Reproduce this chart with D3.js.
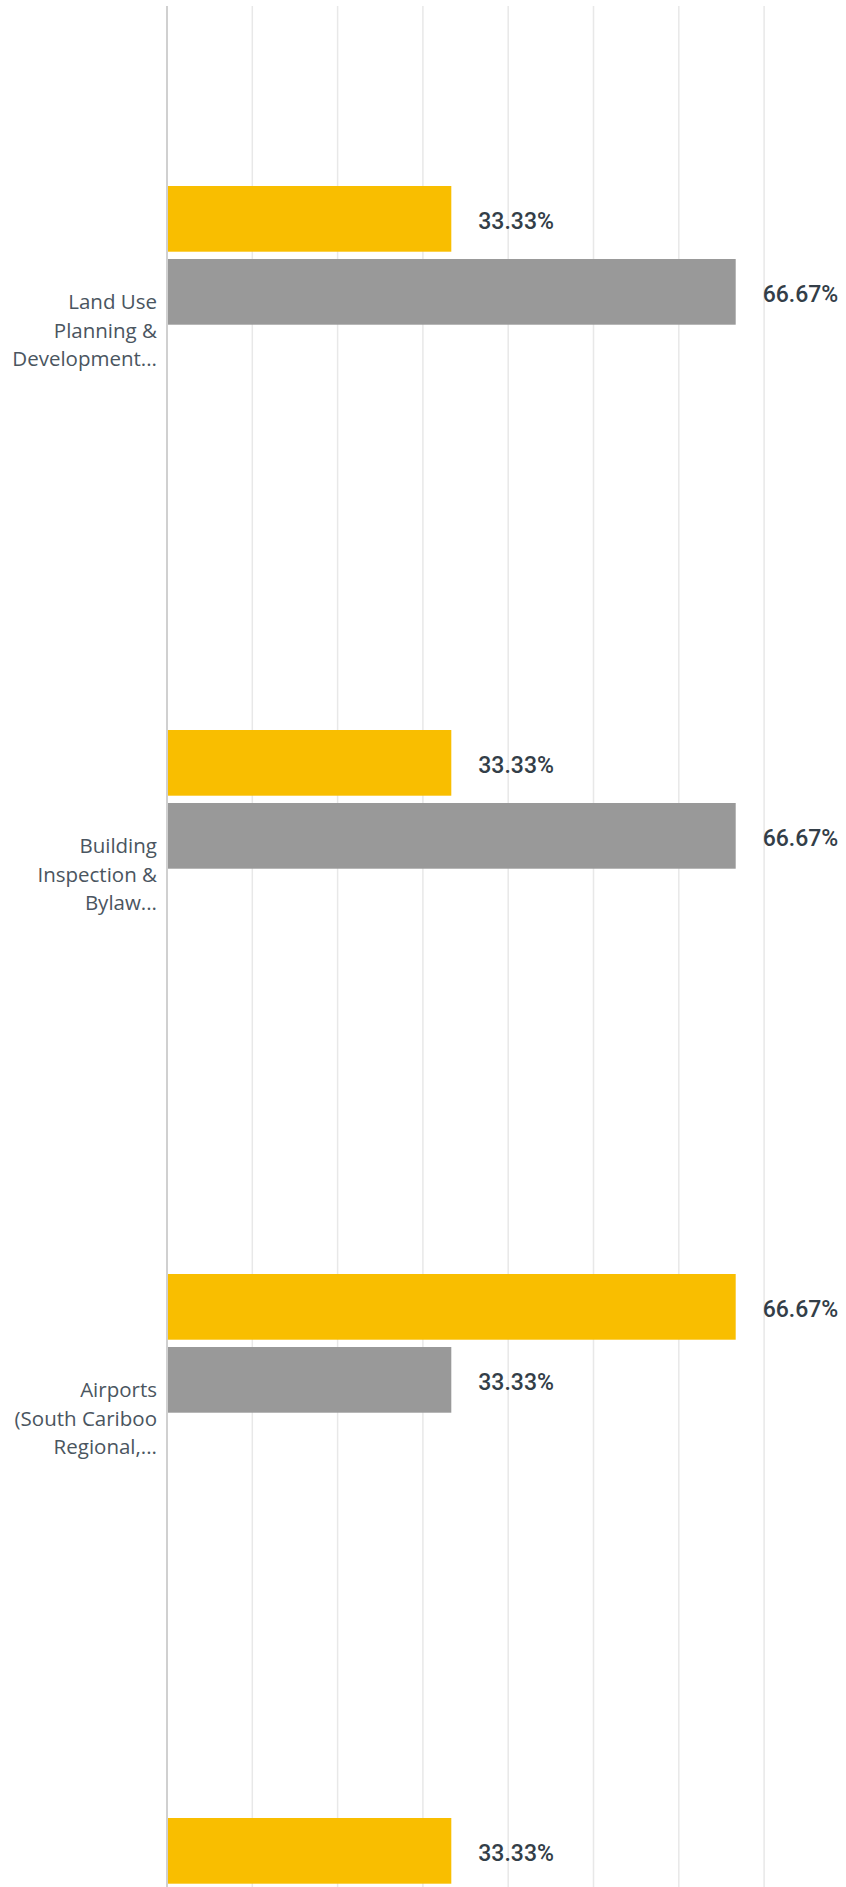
<!DOCTYPE html>
<html>
<head>
<meta charset="utf-8">
<script src="https://cdn.jsdelivr.net/npm/d3@7"></script>
<style>
  body { margin: 0; background: #fff; }
  svg { display: block; }
</style>
</head>
<body>
<div id="chart"></div>
<script>
const svgWidth = 846;
const svgHeight = 1887;

// categories (labels already wrapped / truncated as in the picture)
const categories = ["Land Use Planning", "Building Inspection", "Airports", "Next"];
const categoryLines = [
  ["Land Use", "Planning &", "Development..."],
  ["Building", "Inspection &", "Bylaw..."],
  ["Airports", "(South Cariboo", "Regional,..."],
  []
];
const seriesNames = ["yellow", "gray"];
const yellowValues = [0.3333, 0.3333, 0.6667, 0.3333];
const grayValues = [0.6667, 0.6667, 0.3333, null];
const gridTicks = [0, 0.1, 0.2, 0.3, 0.4, 0.5, 0.6, 0.7, 0.8, 0.9, 1];
const colors = { yellow: "#F9BE00", gray: "#999999" };

const axisX = 167;

const svg = d3.select("#chart")
  .append("svg")
  .attr("width", svgWidth)
  .attr("height", svgHeight);

// x scale: the picture shows only the left part of a wider chart
const xScale = d3.scaleLinear()
  .domain([0, 1])
  .range([axisX, axisX + 853]);

// category bands, 544px apart
const yScale = d3.scaleBand()
  .domain(categories)
  .range([60, 60 + 544 * categories.length])
  .paddingInner(0);

// bars inside a band
const ySeries = d3.scaleBand()
  .domain(seriesNames)
  .range([126, 126 + 73 * 2 - 7.3])
  .paddingInner(0.1);

// gridlines
svg.append("g")
  .selectAll("line")
  .data(gridTicks.filter(t => t > 0))
  .enter()
  .append("line")
  .attr("x1", d => xScale(d))
  .attr("x2", d => xScale(d))
  .attr("y1", 6)
  .attr("y2", svgHeight)
  .attr("stroke", "#e8e8e8")
  .attr("stroke-width", 1.5);

// build rows
const rows = [];
categories.forEach((c, i) => {
  rows.push({ cat: c, series: "yellow", value: yellowValues[i] });
  rows.push({ cat: c, series: "gray", value: grayValues[i] });
});
const bars = rows.filter(d => d.value != null);

svg.append("g")
  .selectAll("rect")
  .data(bars)
  .enter()
  .append("rect")
  .attr("x", xScale(0))
  .attr("y", d => yScale(d.cat) + ySeries(d.series))
  .attr("width", d => xScale(d.value) - xScale(0))
  .attr("height", ySeries.bandwidth())
  .attr("fill", d => colors[d.series]);

// value labels
svg.append("g")
  .selectAll("text")
  .data(bars)
  .enter()
  .append("text")
  .attr("x", d => xScale(d.value) + 27)
  .attr("y", d => yScale(d.cat) + ySeries(d.series) + ySeries.bandwidth() / 2 + 10)
  .attr("font-family", "Roboto, 'Open Sans', sans-serif")
  .attr("font-size", "23px")
  .attr("font-weight", 500)
  .attr("fill", "#333e48")
  .text(d => (d.value * 100).toFixed(2) + "%");

// axis line
svg.append("line")
  .attr("x1", axisX)
  .attr("x2", axisX)
  .attr("y1", 6)
  .attr("y2", svgHeight)
  .attr("stroke", "#d0d0d0")
  .attr("stroke-width", 2);

// category labels
const labelGroup = svg.append("g");
categories.forEach((c, i) => {
  const center = yScale(c) + yScale.bandwidth() / 2;
  const t = labelGroup.append("text")
    .attr("text-anchor", "end")
    .attr("font-family", "'Open Sans', sans-serif")
    .attr("font-size", "20.5px")
    .attr("fill", "#4a5560");
  categoryLines[i].forEach((line, j) => {
    t.append("tspan")
      .attr("x", 157)
      .attr("y", center - 23 + j * 28.5)
      .text(line);
  });
});
</script>
</body>
</html>
